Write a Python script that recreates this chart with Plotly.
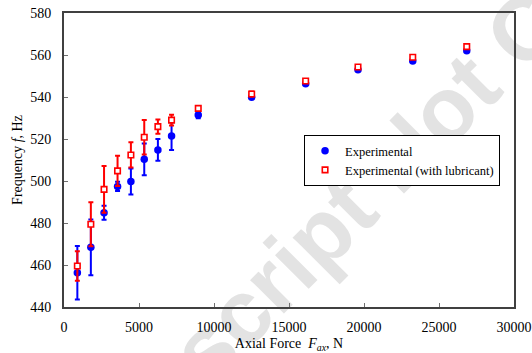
import plotly.graph_objects as go

# Axial force applied (N)
force = [890, 1790, 2670, 3570, 4460, 5350, 6260, 7170, 8950, 12510, 16110, 19600, 23250, 26850]

# Measured natural frequency (Hz) and scatter
freq_dry = [456.3, 468.4, 484.9, 497.4, 499.8, 510.3, 514.8, 521.4, 531.4, 539.9, 546.3, 553.0, 557.1, 562.0]
err_dry = [12.7, 13.3, 3.3, 2.2, 6.2, 7.6, 5.2, 6.6, 1.5, 0.5, 0.5, 0.5, 0.5, 0.5]

freq_lub = [459.5, 479.4, 496.0, 504.8, 512.4, 520.8, 525.9, 529.0, 534.6, 541.4, 547.6, 554.3, 558.9, 564.0]
err_lub = [7.0, 10.5, 11.1, 7.2, 6.0, 8.2, 3.4, 2.6, 1.0, 1.2, 0.6, 0.6, 0.6, 0.6]

x_ticks = [0, 5000, 10000, 15000, 20000, 25000, 30000]
y_ticks = [440, 460, 480, 500, 520, 540, 560, 580]

SERIF = "Liberation Serif"

fig = go.Figure()

fig.add_trace(go.Scatter(
    x=force, y=freq_dry, mode="markers", name="Experimental",
    marker=dict(symbol="circle", size=7.5, color="#0000ff"),
    error_y=dict(type="data", array=err_dry, visible=True,
                 color="#0000ff", thickness=2, width=2.5),
))

fig.add_trace(go.Scatter(
    x=force, y=freq_lub, mode="markers", name="Experimental (with lubricant)",
    marker=dict(symbol="square", size=5.5, color="white",
                line=dict(color="#ff0000", width=1.6)),
    error_y=dict(type="data", array=err_lub, visible=True,
                 color="#ff0000", thickness=2, width=2.5),
))

# Light diagonal watermark behind the plot
fig.add_shape(
    type="line", xref="paper", yref="paper",
    x0=0.3645, y0=-0.0204, x1=1.2534, y1=1.340,
    line=dict(width=0, color="rgba(0,0,0,0)"),
    layer="below",
    label=dict(text="Manuscript Not Copyedited", textposition="middle",
               yanchor="middle",
               font=dict(family="Liberation Sans, Arial, sans-serif", size=90,
                         color="#e3e3e3", weight="bold")),
)

axis_common = dict(
    showgrid=False, zeroline=False,
    showline=True, linecolor="#404040", linewidth=2, mirror=True,
    ticks="inside", ticklen=4, tickwidth=1, tickcolor="#707070",
    tickfont=dict(family=SERIF, size=14, color="black"),
)

fig.update_xaxes(
    range=[0, 30000], tickvals=x_ticks, ticktext=[str(v) for v in x_ticks],
    ticklabelstandoff=6,
    title=dict(text="Axial Force&nbsp; <i>F<sub>ax</sub></i>, N",
               font=dict(family=SERIF, size=14, color="black"), standoff=5),
    **axis_common,
)
fig.update_yaxes(
    range=[440, 580], tickvals=y_ticks, ticktext=[str(v) for v in y_ticks],
    ticklabelstandoff=8,
    title=dict(text="Frequency <i>f</i>, Hz",
               font=dict(family=SERIF, size=14, color="black"), standoff=4),
    **axis_common,
)

fig.update_layout(
    width=532, height=353,
    margin=dict(l=64, r=18, t=13, b=46, autoexpand=False),
    paper_bgcolor="white", plot_bgcolor="rgba(0,0,0,0)",
    showlegend=True,
    legend=dict(
        x=0.969, y=0.585, xanchor="right", yanchor="top",
        bgcolor="white", bordercolor="black", borderwidth=1,
        font=dict(family=SERIF, size=12.5, color="black"),
        itemwidth=30, tracegroupgap=0,
    ),
)

fig.write_html("out.html")
